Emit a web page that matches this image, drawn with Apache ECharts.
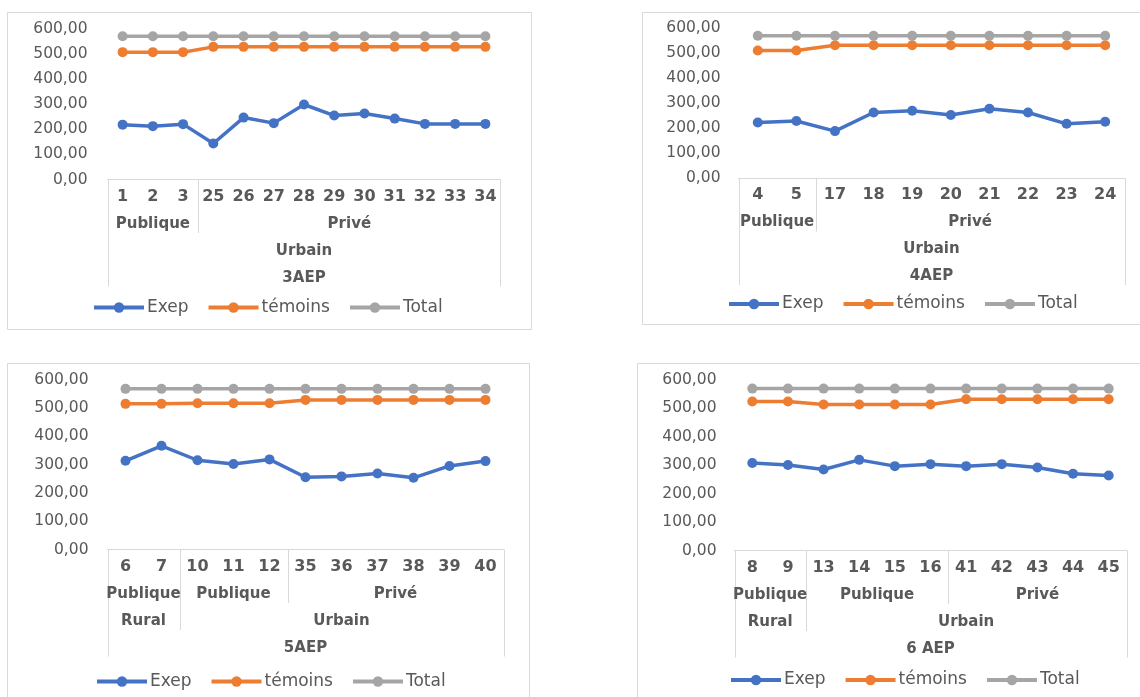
<!DOCTYPE html>
<html>
<head>
<meta charset="utf-8">
<script src="https://cdn.jsdelivr.net/npm/echarts@6/dist/echarts.min.js"></script>
<style>
html,body{margin:0;padding:0;background:#fff;}
#chart{width:1140px;height:697px;}
</style>
</head>
<body>
<div id="chart"></div>
<script>
// ---------- DATA ----------
const seriesNames = ['Exep', 'témoins', 'Total'];
const yTicks = [0, 100, 200, 300, 400, 500, 600];

// Panel A : 3AEP
const catsA = ['1','2','3','25','26','27','28','29','30','31','32','33','34'];
const exepA = [218, 212, 220, 143, 246, 224, 298, 254, 262, 242, 221, 221, 221];
const temoinsA = [506, 506, 506, 527, 527, 527, 527, 527, 527, 527, 527, 527, 527];
const totalA = [569, 569, 569, 569, 569, 569, 569, 569, 569, 569, 569, 569, 569];
const sectorA = [['Publique', 3], ['Privé', 10]];
const zoneA = [['Urbain', 13]];
const levelA = [['3AEP', 13]];

// Panel B : 4AEP
const catsB = ['4','5','17','18','19','20','21','22','23','24'];
const exepB = [221, 227, 187, 261, 268, 251, 276, 261, 216, 224];
const temoinsB = [508, 508, 529, 529, 529, 529, 529, 529, 529, 529];
const totalB = [567, 567, 567, 567, 567, 567, 567, 567, 567, 567];
const sectorB = [['Publique', 2], ['Privé', 8]];
const zoneB = [['Urbain', 10]];
const levelB = [['4AEP', 10]];

// Panel C : 5AEP
const catsC = ['6','7','10','11','12','35','36','37','38','39','40'];
const exepC = [313, 366, 315, 302, 318, 255, 258, 268, 253, 295, 312];
const temoinsC = [514, 514, 516, 516, 516, 528, 528, 528, 528, 528, 528];
const totalC = [567, 567, 567, 567, 567, 567, 567, 567, 567, 567, 567];
const sectorC = [['Publique', 2], ['Publique', 3], ['Privé', 6]];
const zoneC = [['Rural', 2], ['Urbain', 9]];
const levelC = [['5AEP', 11]];

// Panel D : 6 AEP
const catsD = ['8','9','13','14','15','16','41','42','43','44','45'];
const exepD = [307, 300, 284, 318, 296, 303, 296, 303, 291, 269, 263];
const temoinsD = [523, 523, 512, 512, 512, 512, 531, 531, 531, 531, 531];
const totalD = [568, 568, 568, 568, 568, 568, 568, 568, 568, 568, 568];
const sectorD = [['Publique', 2], ['Publique', 4], ['Privé', 5]];
const zoneD = [['Rural', 2], ['Urbain', 9]];
const levelD = [['6 AEP', 11]];

// ---------- LAYOUT / STYLE ----------
const FONT = 'DejaVu Sans';
const TXT = '#595959';
const LINE = '#D9D9D9';
const colors = ['#4472C4', '#ED7D31', '#A5A5A5'];

const panels = [
  {cats: catsA, vals: [exepA, temoinsA, totalA], levels: [sectorA, zoneA, levelA],
   grid: {left: 107.5, top: 28.5, width: 393, height: 151}, yMargin: 20,
   legend: {left: 92, cy: 307.5}, border: [7.5, 12.5, 524, 317]},
  {cats: catsB, vals: [exepB, temoinsB, totalB], levels: [sectorB, zoneB, levelB],
   grid: {left: 738.5, top: 27.5, width: 386, height: 150.5}, yMargin: 18,
   legend: {left: 727, cy: 304}, border: [642.5, 12.5, 530, 312]},
  {cats: catsC, vals: [exepC, temoinsC, totalC], levels: [sectorC, zoneC, levelC],
   grid: {left: 107.5, top: 379.5, width: 396, height: 170}, yMargin: 19,
   legend: {left: 95, cy: 681.5}, border: [7.5, 363.5, 522, 400]},
  {cats: catsD, vals: [exepD, temoinsD, totalD], levels: [sectorD, zoneD, levelD],
   grid: {left: 734.5, top: 379.5, width: 392, height: 171}, yMargin: 18,
   legend: {left: 729, cy: 680}, border: [637.5, 363.5, 530, 400]}
];

const chart = echarts.init(document.getElementById('chart'), null, {renderer: 'canvas'});

const grids = [], xAxes = [], yAxes = [], series = [], legends = [];
panels.forEach((p, i) => {
  grids.push(Object.assign({containLabel: false, outerBoundsMode: 'none'}, p.grid));
  xAxes.push({
    type: 'category', gridIndex: i, data: p.cats, boundaryGap: true,
    axisLine: {show: true, lineStyle: {color: LINE, width: 1}},
    axisTick: {show: false},
    splitLine: {show: false},
    axisLabel: {interval: 0, margin: 9, color: TXT, fontFamily: FONT, fontWeight: 'bold', fontSize: 16, hideOverlap: false}
  });
  yAxes.push({
    type: 'value', gridIndex: i, min: yTicks[0], max: yTicks[yTicks.length - 1], interval: yTicks[1] - yTicks[0],
    axisLine: {show: false}, axisTick: {show: false}, splitLine: {show: false},
    axisLabel: {margin: p.yMargin, color: TXT, fontFamily: FONT, fontSize: 15.5,
      formatter: v => v.toFixed(2).replace('.', ',')}
  });
  seriesNames.forEach((name, k) => {
    series.push({
      type: 'line', name: name, xAxisIndex: i, yAxisIndex: i, data: p.vals[k],
      symbol: 'circle', symbolSize: 10, showSymbol: true,
      lineStyle: {color: colors[k], width: 3.5},
      itemStyle: {color: colors[k]},
      emphasis: {disabled: true}
    });
  });
  legends.push({
    data: seriesNames, left: p.legend.left, top: p.legend.cy - 8.5, padding: 0,
    itemWidth: 50, itemHeight: 13, itemGap: 18, selectedMode: false,
    lineStyle: {width: 4},
    textStyle: {color: TXT, fontFamily: FONT, fontSize: 17, padding: [0, 0, 0, -2]}
  });
});

chart.setOption({
  animation: false,
  backgroundColor: '#ffffff',
  color: colors,
  grid: grids, xAxis: xAxes, yAxis: yAxes, series: series, legend: legends
});

// ---------- multi-level category labels derived from the axis scales ----------
const graphics = [];
const ROW = [44.5, 71.5, 98.5];
const DIV_END = [53.5, 80.5];
const BOX_END = 107;

panels.forEach((p, i) => {
  const b = p.border;
  graphics.push({type: 'rect', silent: true, z: -1,
    shape: {x: b[0], y: b[1], width: b[2], height: b[3]},
    style: {fill: null, stroke: LINE, lineWidth: 1}});

  const n = p.cats.length;
  const c0 = chart.convertToPixel({xAxisIndex: i}, 0);
  const c1 = chart.convertToPixel({xAxisIndex: i}, 1);
  const bw = c1 - c0;
  const left = c0 - bw / 2;
  const right = left + n * bw;
  const y0 = chart.convertToPixel({yAxisIndex: i}, 0);
  const crisp = v => Math.round(v) + 0.5;

  // box sides
  [left, right].forEach(x => graphics.push({type: 'line', silent: true,
    shape: {x1: crisp(x), y1: y0, x2: crisp(x), y2: y0 + BOX_END},
    style: {stroke: LINE, lineWidth: 1}}));

  // boundaries: deepest level having a boundary at that index
  const depth = {};
  p.levels.forEach((groups, lv) => {
    let idx = 0;
    groups.forEach((g, gi) => {
      if (gi > 0 && lv < DIV_END.length) depth[idx] = lv;
      idx += g[1];
    });
  });
  Object.keys(depth).forEach(k => {
    const x = crisp(left + Number(k) * bw);
    graphics.push({type: 'line', silent: true,
      shape: {x1: x, y1: y0, x2: x, y2: y0 + DIV_END[depth[k]]},
      style: {stroke: LINE, lineWidth: 1}});
  });

  // group texts
  p.levels.forEach((groups, lv) => {
    let idx = 0;
    groups.forEach(g => {
      const cx = left + (idx + g[1] / 2) * bw;
      graphics.push({type: 'text', silent: true,
        style: {text: g[0], x: cx, y: y0 + ROW[lv], align: 'center', verticalAlign: 'middle',
          fill: TXT, fontFamily: FONT, fontWeight: 'bold', fontSize: 15}});
      idx += g[1];
    });
  });
});

chart.setOption({graphic: graphics});
</script>
</body>
</html>
